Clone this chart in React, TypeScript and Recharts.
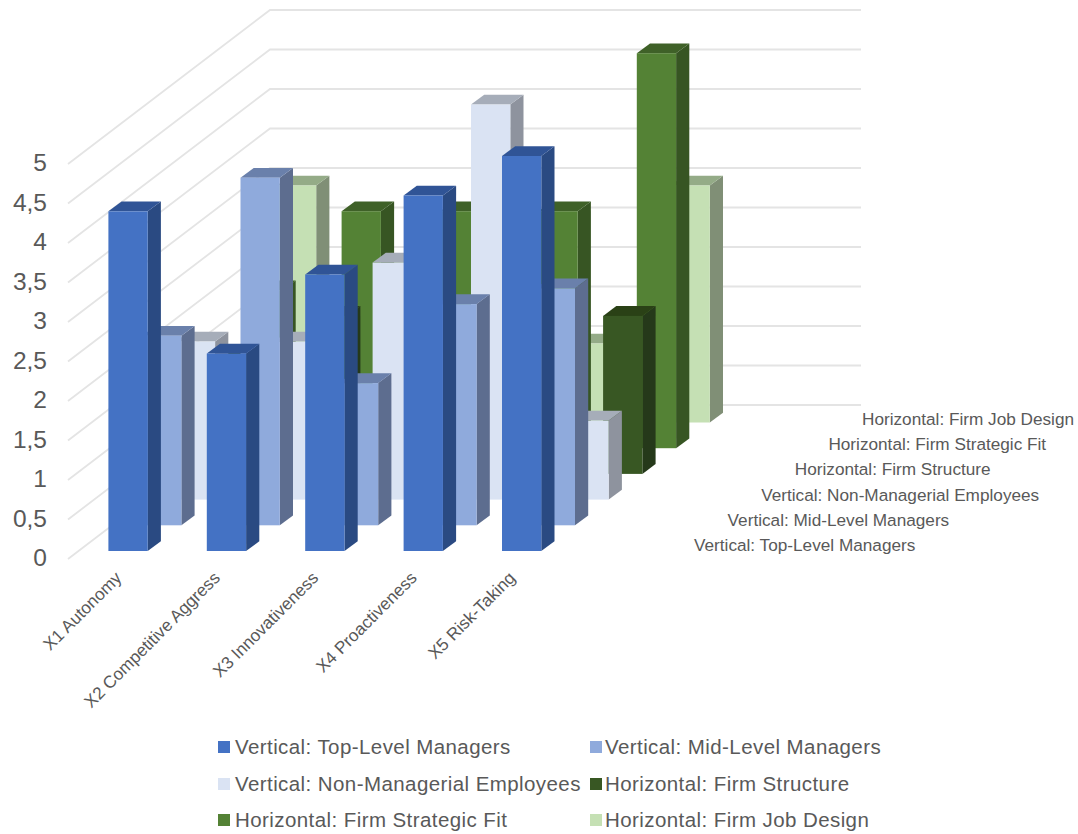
import React from "react";
import { BarChart, Bar, XAxis, YAxis, CartesianGrid, Legend } from "recharts";

const categories = [
  "X1 Autonomy",
  "X2 Competitive Aggress",
  "X3 Innovativeness",
  "X4 Proactiveness",
  "X5 Risk-Taking",
];
const seriesNames = [
  "Vertical: Top-Level Managers",
  "Vertical: Mid-Level Managers",
  "Vertical: Non-Managerial Employees",
  "Horizontal: Firm Structure",
  "Horizontal: Firm Strategic Fit",
  "Horizontal: Firm Job Design",
];
const topLevel = [4.3, 2.5, 3.5, 4.5, 5];
const midLevel = [2.4, 4.4, 1.8, 2.8, 3];
const nonManagerial = [2, 2, 3, 5, 1];
const firmStructure = [1.5, 2, 2, 2, 2];
const firmStrategicFit = [2, 3, 3, 3, 5];
const firmJobDesign = [3, 2, 3, 1, 3];
const seriesValues = [topLevel, midLevel, nonManagerial, firmStructure, firmStrategicFit, firmJobDesign];

const yTicks = [0, 0.5, 1, 1.5, 2, 2.5, 3, 3.5, 4, 4.5, 5];

const frontColors = ["#4472C4", "#8FAADC", "#DAE3F3", "#385723", "#548235", "#C5E0B4"];
const sideColors = ["#2A4A82", "#5D6D8F", "#8E939E", "#25391A", "#375523", "#808F76"];
const topColors = ["#305496", "#6A80AB", "#A6ADB9", "#2A4116", "#3F6128", "#94AB87"];

const FONT = "'Liberation Sans', Arial, sans-serif";
const TEXT = "#595959";

// one step back along the depth axis
const ROW_DX = 33.7;
const ROW_DY = -25.7;
// bar depth
const SIDE_DX = 13.2;
const SIDE_DY = -9.8;

const data = categories.map((name, i) => {
  const row: Record<string, string | number> = { name };
  seriesNames.forEach((s, j) => {
    row[s] = seriesValues[j][i];
  });
  return row;
});

function Bar3D(props: any) {
  const { x, y, width, height, row } = props;
  const l = x + ROW_DX * row;
  const t = y + ROW_DY * row;
  const r = l + width;
  const b = t + height;
  return (
    <g>
      <polygon
        points={`${r},${t} ${r + SIDE_DX},${t + SIDE_DY} ${r + SIDE_DX},${b + SIDE_DY} ${r},${b}`}
        fill={sideColors[row]}
      />
      <polygon
        points={`${l},${t} ${l + SIDE_DX},${t + SIDE_DY} ${r + SIDE_DX},${t + SIDE_DY} ${r},${t}`}
        fill={topColors[row]}
      />
      <rect x={l} y={t} width={width} height={height} fill={frontColors[row]} />
    </g>
  );
}

// floor/wall line: diagonal side wall then flat back wall
function WallLine(props: any) {
  const y = props.y1;
  return (
    <polyline
      key={props.key ?? y}
      points={`68,${y + 8} 270,${y - 146} 861,${y - 146}`}
      fill="none"
      stroke="#E4E4E4"
      strokeWidth={1.8}
    />
  );
}

function YTick({ y, payload }: any) {
  return (
    <text x={47} y={y + 15} textAnchor="end" fontSize={24.5} fontFamily={FONT} fill={TEXT}>
      {String(payload.value).replace(".", ",")}
    </text>
  );
}

function XTick({ x, payload }: any) {
  const px = x - 5;
  const py = 579;
  return (
    <text
      x={px}
      y={py}
      textAnchor="end"
      transform={`rotate(-45 ${px} ${py})`}
      fontSize={17.2}
      fontFamily={FONT}
      fill={TEXT}
    >
      {payload.value}
    </text>
  );
}

function ChartLegend() {
  return (
    <div
      style={{
        display: "grid",
        gridTemplateColumns: "372px 300px",
        gridAutoRows: "36.5px",
        paddingLeft: 218,
        fontFamily: FONT,
        fontSize: 20.5,
        letterSpacing: 0.42,
        color: TEXT,
      }}
    >
      {seriesNames.map((name, i) => (
        <div key={name} style={{ display: "flex", alignItems: "center", whiteSpace: "nowrap" }}>
          <span style={{ width: 12, height: 12, marginRight: i % 2 ? 3 : 5, background: frontColors[i] }} />
          {name}
        </div>
      ))}
    </div>
  );
}

export default function App() {
  // back row first so the front rows cover it
  const order = seriesNames.map((_, i) => seriesNames.length - 1 - i);
  return (
    <div style={{ position: "absolute", left: 0, top: 0 }}>
      <BarChart
        width={1078}
        height={834}
        data={data}
        margin={{ top: 156, right: 507.6, bottom: 0, left: 0 }}
        barSize={39.3}
        barGap={-39.3}
      >
        <CartesianGrid vertical={false} horizontal={WallLine} />
        <XAxis dataKey="name" height={173.5} axisLine={false} tickLine={false} interval={0} tick={XTick} />
        <YAxis
          domain={[0, 5]}
          ticks={yTicks}
          width={78.4}
          axisLine={false}
          tickLine={false}
          tick={YTick}
        />
        {order.map((i) => (
          <Bar
            key={seriesNames[i]}
            dataKey={seriesNames[i]}
            fill={frontColors[i]}
            isAnimationActive={false}
            shape={(p: any) => <Bar3D {...p} row={i} />}
          />
        ))}
        {seriesNames.map((name, i) => (
          <text
            key={name}
            x={694 + 33.6 * i}
            y={551 - 25.2 * i}
            fontSize={17.2}
            fontFamily={FONT}
            fill={TEXT}
          >
            {name}
          </text>
        ))}
        <Legend content={ChartLegend} wrapperStyle={{ bottom: -4.5 }} />
      </BarChart>
    </div>
  );
}
